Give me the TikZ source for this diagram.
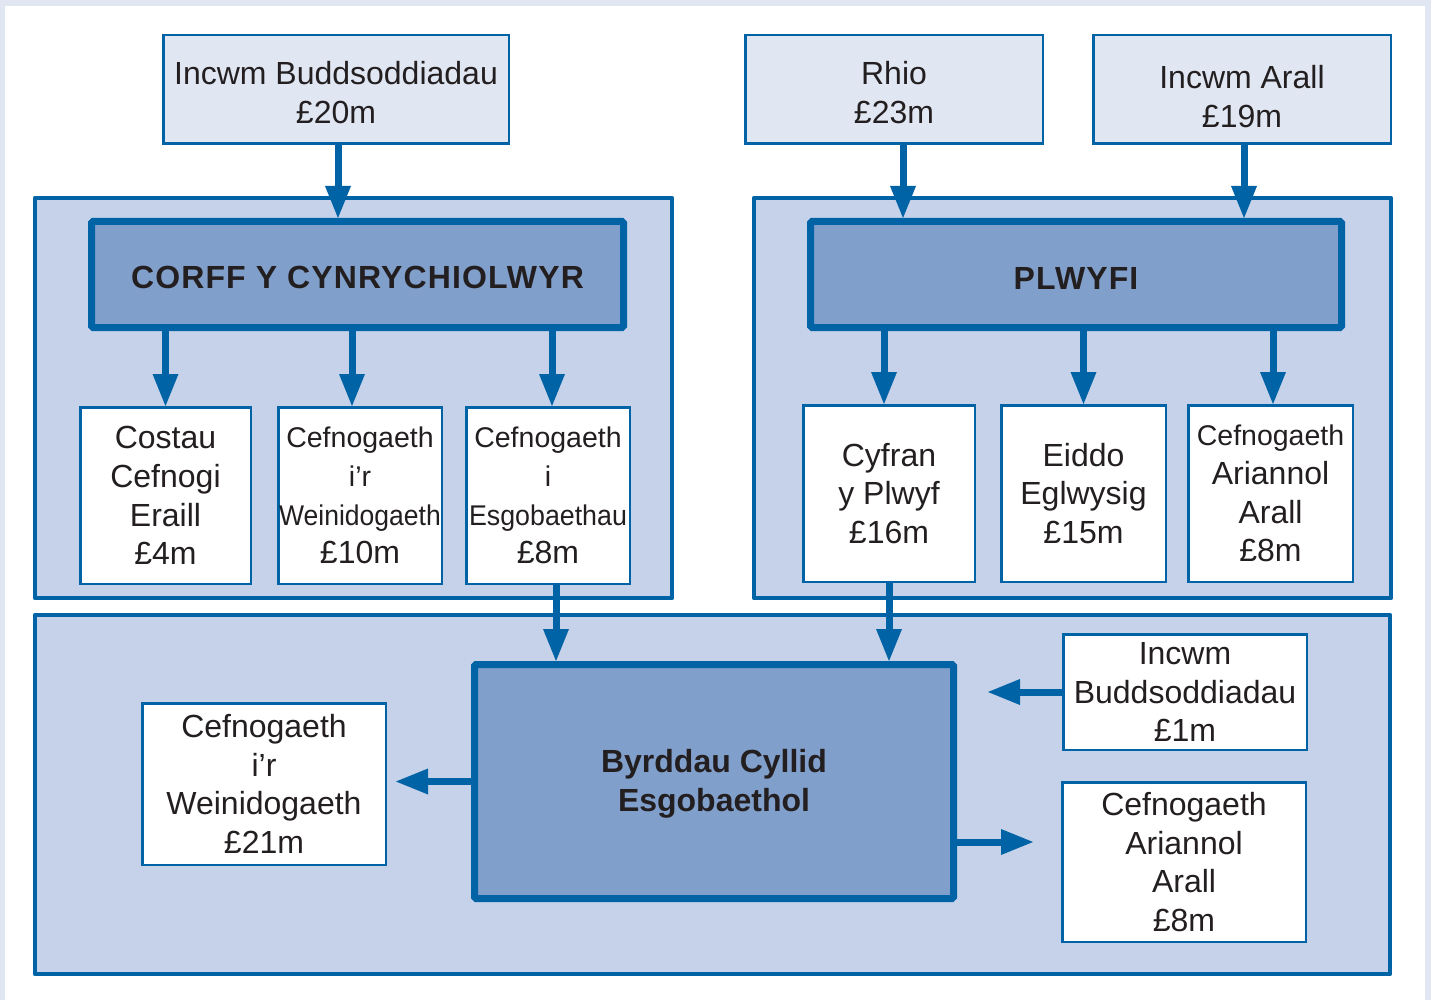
\documentclass[tikz,border=0pt]{standalone}
\usepackage{fontspec,graphicx}
\setmainfont{Liberation Sans}
\usetikzlibrary{arrows.meta}
\definecolor{blu}{RGB}{0,99,166}
\definecolor{pale}{RGB}{224,230,242}
\definecolor{band}{RGB}{198,210,233}
\definecolor{head}{RGB}{129,159,203}
\definecolor{ink}{RGB}{35,31,32}
\newcommand\pad[1]{\rule{0pt}{#1}}

\begin{document}
\begin{tikzpicture}[x=1pt,y=-1pt,
    every node/.style={text=ink,align=center,inner sep=0pt,
      font=\fontsize{32}{38.7}\selectfont},
    source/.style={draw=blu,fill=pale,line width=2.5pt},
    item/.style={draw=blu,fill=white,line width=2.5pt},
    title/.style={draw=blu,fill=head,line width=7pt,rounded corners=1.5pt,
      font=\fontsize{32}{38.7}\selectfont\bfseries},
    group/.style={draw=blu,fill=band,line width=4.5pt,line join=round},
    flow/.style={draw=blu,line width=7pt,
      -{Triangle[width=26pt,length=32pt,line width=0pt]}},
  ]
  \useasboundingbox (0,0) rectangle (1431,1000);
  \fill[pale] (0,0) rectangle (1431,1000);
  \fill[white] (5,6) rectangle (1425,1000);

  % the three boxes of each group
  \draw[group] (35,198) rectangle (672,598);
  \draw[group] (754,198) rectangle (1391,598);
  \draw[group] (35,615) rectangle (1390,974);

  \node[source,minimum width=345.5pt,minimum height=108.5pt] (ib) at (336,89.5) {\pad{30pt}Incwm Buddsoddiadau\\£20m};
  \node[source,minimum width=297.5pt,minimum height=108.5pt] (rhio) at (894,89.5) {\pad{30pt}Rhio\\£23m};
  \node[source,minimum width=297.5pt,minimum height=108.5pt] (arall) at (1242,89.5) {\pad{37pt}Incwm Arall\\£19m};

  \node[title,minimum width=532pt,minimum height=106pt] (corff) at (357.5,274.5) {\pad{29pt}\addfontfeatures{LetterSpace=3.5}CORFF Y CYNRYCHIOLWYR};
  \node[title,minimum width=531pt,minimum height=106pt] (plwyfi) at (1076,274.5) {\pad{29pt}\addfontfeatures{LetterSpace=3.5}PLWYFI};
  \node[title,minimum width=479pt,minimum height=234pt] (byrddau) at (714,781.5) {\pad{28pt}Byrddau Cyllid\\Esgobaethol};

  \node[item,minimum width=170.5pt,minimum height=176.5pt] (costau) at (165.5,495.5) {Costau\\Cefnogi\\Eraill\\£4m};
  \node[item,minimum width=163.5pt,minimum height=176.5pt,
    font=\fontsize{28.5}{38.7}\selectfont] (wein10) at (360,495.5) {Cefnogaeth\\i’r\\\scalebox{0.93}[1]{Weinidogaeth}\\\fontsize{32}{38.7}\selectfont £10m};
  \node[item,minimum width=163.5pt,minimum height=176.5pt,
    font=\fontsize{28.5}{38.7}\selectfont] (esgob) at (548,495.5) {Cefnogaeth\\i\\\scalebox{0.94}[1]{Esgobaethau}\\\fontsize{32}{38.7}\selectfont £8m};

  \node[item,minimum width=171.5pt,minimum height=176.5pt] (cyfran) at (889,493.5) {Cyfran\\y Plwyf\\£16m};
  \node[item,minimum width=164.5pt,minimum height=176.5pt] (eiddo) at (1083.5,493.5) {Eiddo\\Eglwysig\\£15m};
  \node[item,minimum width=164.5pt,minimum height=176.5pt,
    font=\fontsize{28.5}{38.7}\selectfont] (ariannol) at (1270.5,493.5) {Cefnogaeth\\\fontsize{32}{38.7}\selectfont Ariannol\\\fontsize{32}{38.7}\selectfont Arall\\\fontsize{32}{38.7}\selectfont £8m};

  \node[item,minimum width=243.5pt,minimum height=161.5pt] (wein21) at (264,784) {Cefnogaeth\\i’r\\Weinidogaeth\\£21m};
  \node[item,minimum width=243.5pt,minimum height=115.5pt] (inc1) at (1185,692) {Incwm\\Buddsoddiadau\\£1m};
  \node[item,minimum width=243.5pt,minimum height=159.5pt] (arall8) at (1184,862) {Cefnogaeth\\Ariannol\\Arall\\£8m};

  % incoming
  \draw[flow] ([xshift=2pt]ib.south) -- ([xshift=2pt]ib.south |- corff.north);
  \draw[flow] ([xshift=9pt]rhio.south) -- ([xshift=9pt]rhio.south |- plwyfi.north);
  \draw[flow] ([xshift=2pt]arall.south) -- ([xshift=2pt]arall.south |- plwyfi.north);

  \draw[flow] (costau.north |- corff.south) -- (costau.north);
  \draw[flow] ([xshift=-8pt]wein10.north |- corff.south) -- ([xshift=-8pt]wein10.north);
  \draw[flow] ([xshift=4pt]esgob.north |- corff.south) -- ([xshift=4pt]esgob.north);
  \draw[flow] ([xshift=-5pt]cyfran.north |- plwyfi.south) -- ([xshift=-5pt]cyfran.north);
  \draw[flow] (eiddo.north |- plwyfi.south) -- (eiddo.north);
  \draw[flow] ([xshift=2.5pt]ariannol.north |- plwyfi.south) -- ([xshift=2.5pt]ariannol.north);

  \draw[flow] ([xshift=8pt]esgob.south) -- ([xshift=8pt]esgob.south |- byrddau.north);
  \draw[flow] (cyfran.south) -- (cyfran.south |- byrddau.north);

  \draw[flow,shorten >=9pt] (byrddau.west) -- (byrddau.west -| wein21.east);
  \draw[flow,shorten >=31pt] (inc1.west) -- (inc1.west -| byrddau.east);
  \draw[flow,shorten >=28pt] ([yshift=-60.5pt]byrddau.east) -- ([yshift=-60.5pt]byrddau.east -| arall8.west);
\end{tikzpicture}
\end{document}
